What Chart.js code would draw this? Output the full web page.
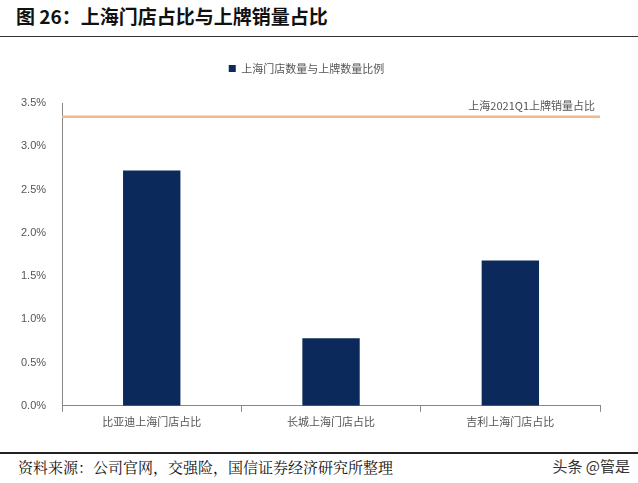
<!DOCTYPE html>
<html><head><meta charset="utf-8">
<script src="https://cdn.jsdelivr.net/npm/chart.js@4"></script>
<style>
body{margin:0;width:638px;height:483px;background:#fff;font-family:"Noto Sans CJK SC";position:relative;overflow:hidden}
#t{position:absolute;left:16px;top:2px;font-size:19px;font-weight:bold;color:#111}
#r1{position:absolute;left:0;top:36px;width:638px;height:1px;background:#333}
#r2{position:absolute;left:0;top:452px;width:638px;height:2px;background:#222}
#s{position:absolute;left:18px;top:456px;font-size:15px;color:#111;font-family:"Noto Serif CJK SC","Noto Sans CJK SC"}
#w{position:absolute;right:8px;top:455px;font-size:15px;color:#333}
#c{position:absolute;left:0;top:31px}
</style></head><body>
<div id="t">图 26：上海门店占比与上牌销量占比</div>
<div id="c"><canvas id="cv" width="638" height="414"></canvas></div>
<div id="r1"></div>
<div id="r2"></div>
<div id="s">资料来源：公司官网，交强险，国信证券经济研究所整理</div>
<div id="w">头条 @管是</div>
<script>
const categories=["比亚迪上海门店占比","长城上海门店占比","吉利上海门店占比"];
const storeRatio=[2.72,0.78,1.68];
const refValue=3.34;
const refLabel="上海2021Q1上牌销量占比";
const legendLabel="上海门店数量与上牌数量比例";
const yTicks=[0,0.5,1,1.5,2,2.5,3,3.5];
const refPlugin={id:'ref',afterDatasetsDraw(ch){const{ctx,chartArea:a,scales:{y}}=ch;const py=y.getPixelForValue(refValue);
ctx.save();ctx.strokeStyle='#f0b98c';ctx.lineWidth=2.5;ctx.beginPath();ctx.moveTo(a.left,py);ctx.lineTo(a.right,py);ctx.stroke();
ctx.fillStyle='#555';ctx.font='11px "Noto Sans CJK SC"';ctx.textAlign='right';ctx.textBaseline='bottom';ctx.fillText(refLabel,a.right-5,py-6);ctx.restore();}};
const legendGap={id:'legendGap',afterInit(ch){const lg=ch.legend;if(!lg)return;const f=lg.fit.bind(lg);lg.fit=function(){f();this.height+=19;};}};
new Chart(document.getElementById('cv'),{type:'bar',data:{labels:categories,datasets:[{label:legendLabel,data:storeRatio,backgroundColor:'#0b2a5b',barPercentage:0.64,categoryPercentage:0.5}]},
options:{responsive:false,animation:false,layout:{padding:{left:13,right:38,top:0,bottom:14}},
plugins:{legend:{labels:{boxWidth:7,boxHeight:7,font:{size:11,family:"Noto Sans CJK SC"},color:'#555',padding:32}},tooltip:{enabled:false}},
scales:{x:{grid:{display:true,drawOnChartArea:false,tickLength:6,offset:true,color:'#888'},border:{color:'#888'},ticks:{font:{size:11,family:"Noto Sans CJK SC"},color:'#555'}},
y:{min:0,max:3.5,afterBuildTicks:s=>{s.ticks=yTicks.map(v=>({value:v}))},grid:{display:false},border:{color:'#888'},ticks:{callback:v=>v.toFixed(1)+'%',font:{size:11,family:"Liberation Sans"},color:'#555',padding:8}}}},
plugins:[refPlugin,legendGap]});
</script></body></html>
